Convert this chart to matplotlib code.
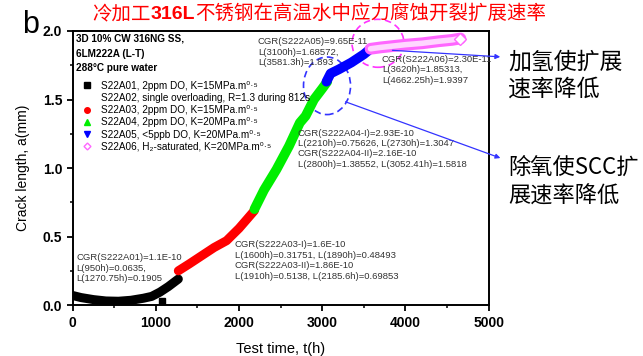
import matplotlib.pyplot as plt
from matplotlib.lines import Line2D
from matplotlib.patches import Ellipse
from matplotlib.ticker import MultipleLocator

plt.rcParams['font.family'] = ['Liberation Sans', 'Noto Sans CJK SC', 'DejaVu Sans']
plt.rcParams['mathtext.fontset'] = 'custom'
plt.rcParams['mathtext.rm'] = 'Liberation Sans'
plt.rcParams['mathtext.it'] = 'Liberation Sans'

# Данные (время, ч; длина трещины, мм)
t_a01 = [0, 100, 250, 400, 550, 700, 850, 950, 1050, 1150, 1270]
a_a01 = [0.07, 0.055, 0.04, 0.03, 0.028, 0.035, 0.05, 0.0635, 0.095, 0.135, 0.19]
t_a02 = [1070]
a_a02 = [0.03]
t_a03 = [1270, 1400, 1550, 1700, 1850, 1900, 2000, 2100, 2185]
a_a03 = [0.25, 0.30, 0.36, 0.42, 0.47, 0.50, 0.56, 0.63, 0.69]
t_a04 = [2185, 2300, 2450, 2600, 2730, 2800, 2900, 3000, 3060]
a_a04 = [0.70, 0.84, 0.99, 1.16, 1.33, 1.38, 1.50, 1.58, 1.63]
t_a05 = [3050, 3100, 3200, 3350, 3500, 3580]
a_a05 = [1.63, 1.69, 1.72, 1.77, 1.83, 1.87]
t_a06 = [3580, 3700, 3850, 4000, 4200, 4400, 4560, 4660]
a_a06 = [1.87, 1.88, 1.89, 1.90, 1.91, 1.925, 1.935, 1.945]

legend_labels = [
    'S22A01, 2ppm DO, K=15MPa.m⁰·⁵',
    'S22A02, single overloading, R=1.3 during 812s',
    'S22A03, 2ppm DO, K=15MPa.m⁰·⁵',
    'S22A04, 2ppm DO, K=20MPa.m⁰·⁵',
    'S22A05, <5ppb DO, K=20MPa.m⁰·⁵',
    'S22A06, H₂-saturated, K=20MPa.m⁰·⁵',
]

fig = plt.figure(figsize=(6.43, 3.56), dpi=100)
ax = fig.add_axes([0.113, 0.143, 0.647, 0.770])

ax.plot(t_a01, a_a01, color='black', lw=6.5, solid_capstyle='round')
ax.plot(t_a02, a_a02, 's', color='black', ms=4)
ax.plot(t_a03, a_a03, color='#ff0000', lw=6.5, solid_capstyle='round')
ax.plot(t_a04, a_a04, color='#00ee00', lw=7, solid_capstyle='round')
ax.plot(t_a05, a_a05, color='#0000ff', lw=7, solid_capstyle='round')
ax.plot(t_a06, a_a06, color='#ff66ff', lw=8.5, solid_capstyle='round')
ax.plot(t_a06, a_a06, color='#ffd6ff', lw=4, solid_capstyle='round')
ax.plot(t_a06[-1:], a_a06[-1:], 'D', mfc='white', mec='#ff66ff', ms=6)

ax.set_xlim(0, 5000)
ax.set_ylim(0, 2.0)
ax.xaxis.set_major_locator(MultipleLocator(1000))
ax.xaxis.set_minor_locator(MultipleLocator(500))
ax.yaxis.set_major_locator(MultipleLocator(0.5))
ax.yaxis.set_minor_locator(MultipleLocator(0.25))
ax.yaxis.set_major_formatter(plt.FormatStrFormatter('%.1f'))
ax.tick_params(which='major', direction='out', length=4, width=1.3, labelsize=10)
ax.tick_params(which='minor', direction='out', length=2.5, width=1.1)
for lab in ax.get_xticklabels() + ax.get_yticklabels():
    lab.set_fontweight('bold')
for sp in ax.spines.values():
    sp.set_linewidth(1.4)

ax.set_xlabel('Test time, t(h)', fontsize=10.5)
ax.set_ylabel('Crack length, a(mm)', fontsize=10)
ax.xaxis.set_label_coords(0.5, -0.134)
ax.yaxis.set_label_coords(-0.103, 0.5)

# заголовок легенды
hdr = dict(transform=ax.transAxes, fontsize=7.2, fontweight='bold', va='center',
           family=['Liberation Sans'])
ax.text(0.008, 0.971, '3D 10% CW 316NG SS,', **hdr)
ax.text(0.008, 0.916, '6LM222A (L-T)', **hdr)
ax.text(0.008, 0.865, '288°C pure water', **hdr)

handles = [
    Line2D([], [], ls='none', marker='s', color='black', ms=4),
    Line2D([], [], ls='none'),
    Line2D([], [], ls='none', marker='o', color='#ff0000', ms=4),
    Line2D([], [], ls='none', marker='^', color='#00ee00', ms=4),
    Line2D([], [], ls='none', marker='v', color='#0000ff', ms=4),
    Line2D([], [], ls='none', marker='D', mfc='white', mec='#ff66ff', ms=3.5),
]
ax.legend(handles, legend_labels, loc='upper left', bbox_to_anchor=(0.02, 0.818),
          frameon=False, fontsize=7.2, handlelength=1.2, handletextpad=0.8,
          labelspacing=0.22, borderpad=0, borderaxespad=0)

# подписи CGR
ann = dict(fontsize=6.8, color='#333333', va='center', linespacing=1.2)
ax.text(2227, 1.845, 'CGR(S222A05)=9.65E-11\nL(3100h)=1.68572,\nL(3581.3h)=1.893', **ann)
ax.text(3717, 1.718, 'CGR(S222A06)=2.30E-11\nL(3620h)=1.85313,\nL(4662.25h)=1.9397', **ann)
ax.text(2708, 1.141, 'CGR(S222A04-I)=2.93E-10\nL(2210h)=0.75626, L(2730h)=1.3047\n'
        'CGR(S222A04-II)=2.16E-10\nL(2800h)=1.38552, L(3052.41h)=1.5818', **ann)
ax.text(1950, 0.326, 'CGR(S222A03-I)=1.6E-10\nL(1600h)=0.31751, L(1890h)=0.48493\n'
        'CGR(S222A03-II)=1.86E-10\nL(1910h)=0.5138, L(2185.6h)=0.69853', **ann)
ax.text(48, 0.270, 'CGR(S222A01)=1.1E-10\nL(950h)=0.0635,\nL(1270.75h)=0.1905', **ann)

# пунктирные овалы и стрелки
ax.add_patch(Ellipse((3670, 1.91), 625, 0.35, fill=False, ec='#ff33ff',
                     ls=(0, (4, 2.5)), lw=1.2, clip_on=False))
ax.add_patch(Ellipse((3057, 1.60), 565, 0.42, fill=False, ec='#3333ff',
                     ls=(0, (4, 2.5)), lw=1.2, clip_on=False))
arr = dict(arrowstyle='-|>', color='#3333ff', lw=0.9, mutation_scale=7)
ax.annotate('', xy=(5172, 1.81), xytext=(3810, 1.86), arrowprops=arr,
            annotation_clip=False)
ax.annotate('', xy=(5172, 1.066), xytext=(3249, 1.49), arrowprops=arr,
            annotation_clip=False)

fig.text(508 / 643, 0.787, '加氢使扩展\n速率降低', fontsize=16.5,
         family=['Noto Sans CJK SC'], va='center', linespacing=1.25)
fig.text(508 / 643, 0.490, '除氧使SCC扩\n展速率降低', fontsize=16,
         family=['Noto Sans CJK SC'], va='center', linespacing=1.3)

fig.text(22 / 643, 1 - 33 / 356, 'b', fontsize=22, va='baseline')

# заголовок: красный, 316L жирным
title_parts = [('冷加工', 'normal'), ('316L', 'bold'), ('不锈钢在高温水中应力腐蚀开裂扩展速率', 'normal')]
x_px = 92
y_fig = 1 - 19 / 356
fig.canvas.draw()
renderer = fig.canvas.get_renderer()
for s, w in title_parts:
    t = fig.text(x_px / 643, y_fig, s, fontsize=14, color='#ff0000',
                 fontweight=w, va='baseline',
                 family=['Liberation Sans', 'Noto Sans CJK SC'])
    x_px = t.get_window_extent(renderer).x1

fig.savefig('out.png', dpi=100)
